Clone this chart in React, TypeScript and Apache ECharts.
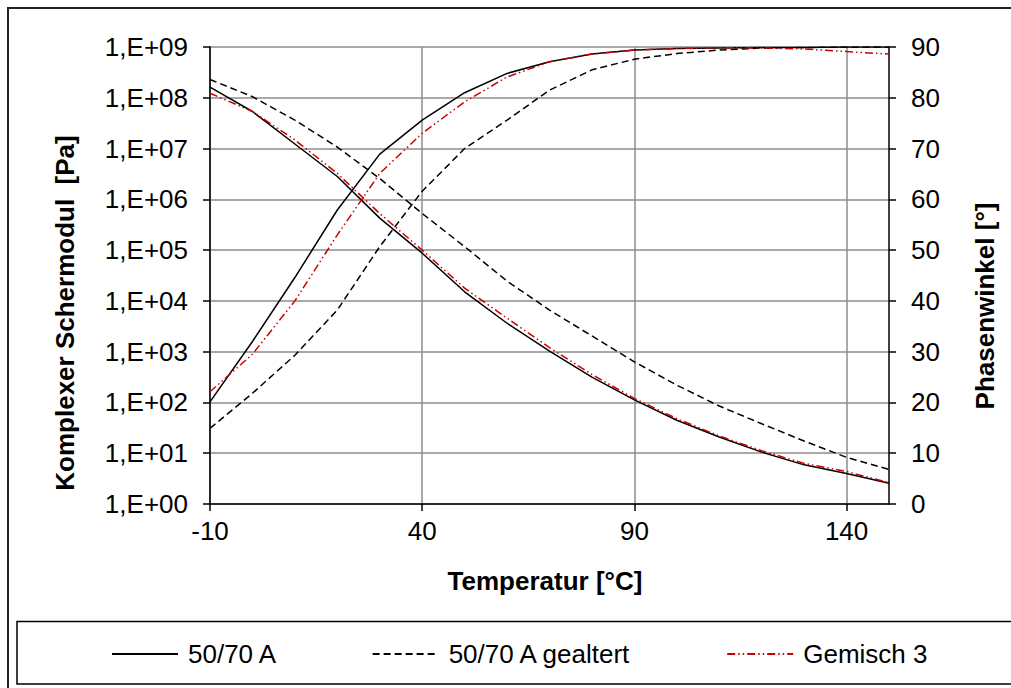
import React, { useEffect, useRef } from "react";
import * as echarts from "echarts";

const temperatures = [-10, 0, 10, 20, 30, 40, 50, 60, 70, 80, 90, 100, 110, 120, 130, 140, 150];

// Komplexer Schermodul [Pa]
const modulus5070A = [1.62e8, 5.37e7, 1.23e7, 2.82e6, 4.27e5, 8.7e4, 1.51e4, 3630, 1023, 316, 112, 44.7, 20.9, 10.5, 5.9, 3.98, 2.57];
const modulus5070AAged = [2.29e8, 1.05e8, 3.63e7, 1.07e7, 2.57e6, 5.25e5, 1.17e5, 2.45e4, 6600, 2040, 631, 219, 85, 38, 17.4, 8.3, 4.8];
const modulusMix3 = [1.23e8, 5.37e7, 1.48e7, 3.24e6, 5.25e5, 1.0e5, 1.78e4, 4570, 1200, 355, 120, 47.9, 21.9, 11.2, 6.3, 4.37, 2.63];

// Phasenwinkel [°]
const phase5070A = [20.1, 32, 44.6, 57.9, 68.9, 75.6, 81, 84.8, 87.1, 88.6, 89.4, 89.7, 89.8, 89.9, 89.9, 90, 90];
const phase5070AAged = [14.9, 21.8, 29.3, 38.2, 50.7, 61.6, 70.0, 75.6, 81.5, 85.5, 87.6, 88.7, 89.4, 89.8, 89.9, 90, 90];
const phaseMix3 = [22.1, 29.5, 40.0, 53, 65.1, 73.0, 79.2, 84.1, 87.1, 88.6, 89.4, 89.7, 89.85, 89.8, 89.6, 89.1, 88.6];

const seriesNames = ["50/70 A", "50/70 A gealtert", "Gemisch 3"];
const xTickValues = [-10, 40, 90, 140];
const modulusTickLabels = ["1,E+00", "1,E+01", "1,E+02", "1,E+03", "1,E+04", "1,E+05", "1,E+06", "1,E+07", "1,E+08", "1,E+09"];

const FONT = "'Liberation Sans', Arial, Helvetica, sans-serif";

export default function App() {
  const ref = useRef<HTMLDivElement>(null);

  useEffect(() => {
    if (!ref.current) return;
    const chart = echarts.init(ref.current, undefined, { renderer: "svg" });
    const pair = (arr: number[]) => temperatures.map((t, i) => [t, arr[i]]);

    const styles = [
      { color: "#000000", type: "solid" as any },
      { color: "#000000", type: [7, 4] as any },
      { color: "#cc0000", type: [8, 3, 1.5, 3, 1.5, 3] as any },
    ];
    const modulus = [modulus5070A, modulus5070AAged, modulusMix3];
    const phase = [phase5070A, phase5070AAged, phaseMix3];

    const series: any[] = [];
    for (let k = 0; k < 3; k++) {
      series.push({
        name: seriesNames[k],
        type: "line",
        yAxisIndex: 0,
        data: pair(modulus[k]),
        symbol: "none",
        showSymbol: false,
        lineStyle: { color: styles[k].color, width: 1.5, type: styles[k].type },
        itemStyle: { color: styles[k].color },
      });
      series.push({
        name: seriesNames[k],
        type: "line",
        yAxisIndex: 1,
        data: pair(phase[k]),
        symbol: "none",
        showSymbol: false,
        lineStyle: { color: styles[k].color, width: 1.5, type: styles[k].type },
        itemStyle: { color: styles[k].color },
      });
    }

    const option: any = {
      animation: false,
      backgroundColor: "#ffffff",
      textStyle: { fontFamily: FONT },
      grid: { left: 210, top: 47, right: 122, bottom: 184, containLabel: false },
      xAxis: {
        type: "value",
        min: -10,
        max: 150,
        interval: 50,
        axisLine: { onZero: false, lineStyle: { color: "#000", width: 1.5 } },
        axisTick: { show: true, inside: false, length: 7, lineStyle: { color: "#000", width: 1.5 }, customValues: xTickValues },
        axisLabel: { color: "#000", fontSize: 26, fontFamily: FONT, margin: 14, customValues: xTickValues },
        splitLine: { show: true, lineStyle: { color: "#8c8c8c", width: 1.5 } },
      },
      yAxis: [
        {
          type: "log",
          logBase: 10,
          min: 1,
          max: 1e9,
          interval: 1,
          axisLine: { show: true, onZero: false, lineStyle: { color: "#000", width: 1.5 } },
          axisTick: { show: true, inside: false, length: 7, lineStyle: { color: "#000", width: 1.5 } },
          axisLabel: {
            color: "#000",
            fontSize: 26,
            fontFamily: FONT,
            margin: 22,
            formatter: (v: number) => modulusTickLabels[Math.round(Math.log10(v))] ?? "",
          },
          splitLine: { show: true, lineStyle: { color: "#8c8c8c", width: 1.5 } },
        },
        {
          type: "value",
          min: 0,
          max: 90,
          interval: 10,
          position: "right",
          axisLine: { show: true, onZero: false, lineStyle: { color: "#000", width: 1.5 } },
          axisTick: { show: true, inside: false, length: 7, lineStyle: { color: "#000", width: 1.5 } },
          axisLabel: { color: "#000", fontSize: 26, fontFamily: FONT, margin: 22 },
          splitLine: { show: false },
        },
      ],
      legend: {
        data: seriesNames,
        left: 106,
        top: 636,
        itemWidth: 66,
        itemHeight: 26,
        itemGap: 94,
        itemStyle: { opacity: 0 },
        textStyle: { color: "#000", fontSize: 26, fontFamily: FONT, padding: [0, 0, 0, 5] },
      },
      graphic: [
        {
          type: "rect",
          silent: true,
          shape: { x: 8, y: 8, width: 1020, height: 700 },
          style: { fill: "none", stroke: "#222", lineWidth: 2 },
        },
        {
          type: "rect",
          silent: true,
          shape: { x: 17, y: 621.5, width: 1010, height: 62.5 },
          style: { fill: "none", stroke: "#000", lineWidth: 1.5 },
        },
        {
          type: "text",
          silent: true,
          x: 545,
          y: 581,
          style: { text: "Temperatur [°C]", font: `bold 26px ${FONT}`, fill: "#000", textAlign: "center", textVerticalAlign: "middle" },
        },
        {
          type: "text",
          silent: true,
          x: 65,
          y: 313,
          rotation: Math.PI / 2,
          style: { text: "Komplexer Schermodul  [Pa]", font: `bold 26px ${FONT}`, fill: "#000", textAlign: "center", textVerticalAlign: "middle" },
        },
        {
          type: "text",
          silent: true,
          x: 985,
          y: 306,
          rotation: Math.PI / 2,
          style: { text: "Phasenwinkel [°]", font: `bold 26px ${FONT}`, fill: "#000", textAlign: "center", textVerticalAlign: "middle" },
        },
      ],
      series,
    };

    chart.setOption(option);
    return () => chart.dispose();
  }, []);

  return (
    <div
      ref={ref}
      style={{ position: "absolute", left: 0, top: 0, width: 1011, height: 688, background: "#fff" }}
    />
  );
}
